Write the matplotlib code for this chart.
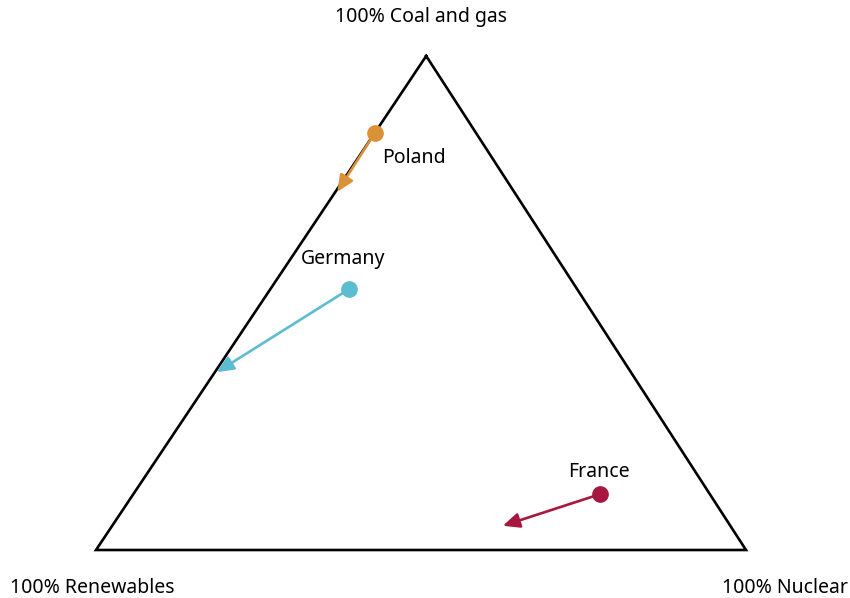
import matplotlib.pyplot as plt

# ternary shares: coal and gas, renewables, nuclear
countries = ['Poland', 'Germany', 'France']
colors = ['#DB9138', '#5CBCD0', '#A8173F']
start_coal = [0.845, 0.528, 0.113]
start_nuclear = [0.0, 0.121, 0.718]
end_coal = [0.725, 0.360, 0.049]
end_nuclear = [0.003, 0.003, 0.601]
label_offsets = [(28, -18), (-4, 22), (-1, 16)]  # points, relative to start marker

corner_labels = ['100% Coal and gas', '100% Renewables', '100% Nuclear']

TOP_X = 0.508  # apex is a bit right of centre in the reference


def project(coal, nuclear):
    return TOP_X * coal + nuclear, coal


plt.rcParams['font.family'] = ['Noto Sans', 'DejaVu Sans']
fig = plt.figure(figsize=(8.5, 5.98), dpi=100)
ax = fig.add_axes([96 / 850, 48 / 598, 650 / 850, 494 / 598])
ax.set_xlim(0, 1)
ax.set_ylim(0, 1)
ax.axis('off')

# triangle frame
corners = [project(1, 0), project(0, 0), project(0, 1)]
xs = [p[0] for p in corners] + [corners[0][0]]
ys = [p[1] for p in corners] + [corners[0][1]]
ax.plot(xs, ys, color='black', lw=1.9, clip_on=False, solid_joinstyle='miter')

ax.text(corners[0][0] - 0.008, corners[0][1] + 0.078, corner_labels[0], ha='center', va='center', fontsize=14)
ax.text(corners[1][0] - 0.006, -0.077, corner_labels[1], ha='center', va='center', fontsize=14)
ax.text(corners[2][0] + 0.06, -0.077, corner_labels[2], ha='center', va='center', fontsize=14)

for name, col, sc, sn, ec, en, off in zip(countries, colors, start_coal, start_nuclear,
                                            end_coal, end_nuclear, label_offsets):
    x0, y0 = project(sc, sn)
    x1, y1 = project(ec, en)
    ax.annotate('', xy=(x1, y1), xytext=(x0, y0),
                arrowprops=dict(arrowstyle='-|>,head_length=1.0,head_width=0.45',
                                color=col, lw=1.9, shrinkA=0, shrinkB=0),
                annotation_clip=False, zorder=3)
    ax.plot(x0, y0, 'o', color=col, markersize=11, zorder=4, clip_on=False)
    ax.annotate(name, xy=(x0, y0), xytext=off, textcoords='offset points',
                ha='center', va='center', fontsize=14)

plt.savefig('out.png', dpi=100)
